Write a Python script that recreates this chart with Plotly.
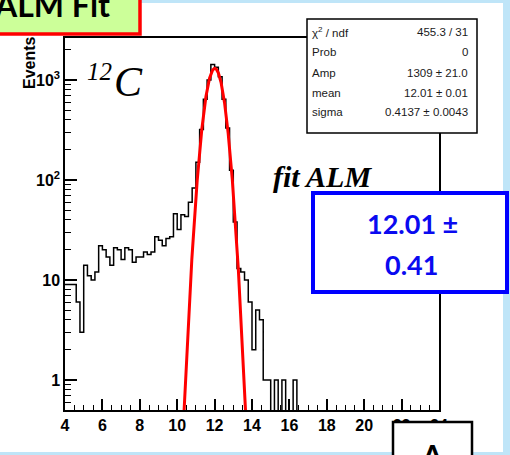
import numpy as np
import plotly.graph_objects as go

# ---- histogram: 100 bins of width 0.2 between 4 and 24 ----
bin_lo, bin_hi, n_bins = 4.0, 24.0, 100
counts = [
    9, 9, 9, 6, 3,
    14, 11, 10, 12, 22,
    20, 17, 14, 21, 20,
    16, 21, 20, 15, 17,
    17, 19, 18, 19, 27,
    25, 22, 26, 27, 46,
    32, 45, 43, 60, 83,
    150, 320, 640, 1000, 1430,
    1340, 1080, 640, 330, 125,
    38, 13, 12, 10, 6,
    2, 5, 4, 1, 1,
    0, 1, 0, 1, 0,
    0, 1, 0, 0, 0,
    0, 0, 0, 0, 0,
    0, 0, 0, 0, 0,
    0, 0, 0, 0, 0,
    0, 0, 0, 0, 0,
    0, 0, 0, 0, 0,
    0, 0, 0, 0, 0,
    0, 0, 0, 0, 0,
]

# ---- gaussian fit result ----
fit_amp, fit_mean, fit_sigma = 1309.0, 12.01, 0.4137
fit_lo, fit_hi = 10.0, 14.0

stats_labels = ["χ<sup>2</sup> / ndf", "Prob", "Amp", "mean", "sigma"]
stats_values = ["455.3 / 31", "0", "1309 ± 21.0", "12.01 ± 0.01", "0.4137 ± 0.0043"]

x_ticks = list(range(4, 25, 2))
y_ticks = [1, 10, 100, 1000]
y_tick_text = ["1", "10", "10<sup>2</sup>", "10<sup>3</sup>"]
y_minor = [0.6, 0.7, 0.8, 0.9] + [m * d for d in (1, 10, 100) for m in range(2, 10)] + [2000]
x_minor = [v for v in np.arange(4.5, 24.0, 0.5) if v % 2 != 0]

result_line1, result_line2 = "12.01 ±", "0.41"

# ---- page geometry (pixels) ----
W, H = 510, 455
ML, MR, MT, MB = 65, 71, 38, 45
PW, PH = W - ML - MR, H - MT - MB


def px(x):
    return (x - ML) / PW


def py(y):
    return (H - MB - y) / PH


edges = np.linspace(bin_lo, bin_hi, n_bins + 1)
cnt = np.array(counts, dtype=float)
draw_cnt = np.where(cnt > 0, cnt, 0.05)  # empty bins fall to the frame bottom
hx = list(edges)
hy = list(draw_cnt) + [draw_cnt[-1]]

fx = np.linspace(fit_lo, fit_hi, 600)
fy = fit_amp * np.exp(-0.5 * ((fx - fit_mean) / fit_sigma) ** 2)

fig = go.Figure()
fig.add_trace(go.Scatter(x=hx, y=hy, mode="lines", line=dict(color="black", width=1.5, shape="hv"),
                         hoverinfo="skip"))
fig.add_trace(go.Scatter(x=fx, y=fy, mode="lines", line=dict(color="#ff0000", width=3),
                         hoverinfo="skip"))

tick_font = dict(family="Liberation Sans", size=16, color="black", weight="bold")

fig.update_layout(
    width=W, height=H,
    margin=dict(l=ML, r=MR, t=MT, b=MB, pad=0),
    paper_bgcolor="white", plot_bgcolor="white",
    showlegend=False, hovermode=False,
    xaxis=dict(range=[bin_lo, bin_hi], tickmode="array", tickvals=x_ticks,
               ticks="inside", ticklen=11, tickwidth=1.5, tickcolor="black",
               minor=dict(tickmode="array", tickvals=x_minor, ticks="inside", ticklen=5,
                          tickwidth=1.2, tickcolor="black", showgrid=False),
               showgrid=False, zeroline=False, showline=True, mirror=True,
               linecolor="black", linewidth=1.5, tickfont=tick_font),
    yaxis=dict(type="log", range=[np.log10(0.5), 3.42], tickmode="array",
               tickvals=y_ticks, ticktext=y_tick_text,
               ticks="inside", ticklen=12, tickwidth=1.5, tickcolor="black",
               minor=dict(tickmode="array", tickvals=y_minor, ticks="inside", ticklen=6,
                          tickwidth=1.2, tickcolor="black", showgrid=False),
               showgrid=False, zeroline=False, showline=True, mirror=True,
               linecolor="black", linewidth=1.5, tickfont=tick_font),
)

shapes = []
page_blue = "#bfe5f8"
# slide background strips
shapes.append(dict(type="rect", xref="paper", yref="paper", x0=px(503), x1=px(W + 5),
                   y0=py(H + 5), y1=py(-5), fillcolor=page_blue, line_width=0, layer="above"))
shapes.append(dict(type="rect", xref="paper", yref="paper", x0=px(-5), x1=px(W + 5),
                   y0=py(H + 5), y1=py(452), fillcolor=page_blue, line_width=0, layer="above"))
shapes.append(dict(type="rect", xref="paper", yref="paper", x0=px(-5), x1=px(W + 5),
                   y0=py(3), y1=py(-5), fillcolor=page_blue, line_width=0, layer="above"))
# title tab
shapes.append(dict(type="rect", xref="paper", yref="paper", x0=px(-6), x1=px(140),
                   y0=py(34), y1=py(-6), fillcolor="#ccff99",
                   line=dict(color="#ff0000", width=3.5), layer="above"))
# stats box
shapes.append(dict(type="rect", xref="paper", yref="paper", x0=px(307), x1=px(477),
                   y0=py(133), y1=py(19), fillcolor="white",
                   line=dict(color="black", width=1.5), layer="above"))
# result box
shapes.append(dict(type="rect", xref="paper", yref="paper", x0=px(313), x1=px(507),
                   y0=py(292), y1=py(193), fillcolor="white",
                   line=dict(color="#0000ff", width=4), layer="above"))
# lower box
shapes.append(dict(type="rect", xref="paper", yref="paper", x0=px(393), x1=px(472),
                   y0=py(470), y1=py(422), fillcolor="white",
                   line=dict(color="black", width=2.5), layer="above"))
fig.update_layout(shapes=shapes)

ann = []


def text(x, y, s, size, family="Liberation Sans", color="black", xanchor="center",
         yanchor="middle", angle=0, **kw):
    ann.append(dict(xref="paper", yref="paper", x=px(x), y=py(y), text=s, showarrow=False,
                    xanchor=xanchor, yanchor=yanchor, textangle=angle,
                    font=dict(family=family, size=size, color=color, **kw)))


text(-8, 4, "<b>ALM Fit</b>", 32, family="Lato", xanchor="left")
text(29, 63, "<b>Events</b>", 16, angle=-90)
text(99, 71, "<i>12</i>", 25, family="Liberation Serif")
text(128, 82, "<i>C</i>", 42, family="Liberation Serif")
text(322, 176, "<b><i>fit ALM</i></b>", 30, family="Liberation Serif")

row_y = [32, 52.5, 73, 92.5, 111.5]
for yy, lab, val in zip(row_y, stats_labels, stats_values):
    text(310, yy, lab, 11.5, color="#1a1a1a", xanchor="left")
    text(470, yy, val, 11.5, color="#1a1a1a", xanchor="right")

text(412, 223, "<b>" + result_line1 + "</b>", 27, family="Lato", color="#0a0af0")
text(411, 264, "<b>" + result_line2 + "</b>", 27, family="Lato", color="#0a0af0")
text(432, 455, "<b>A</b>", 30, family="Lato")

fig.update_layout(annotations=ann)

fig.write_html("out.html", config=dict(displayModeBar=False))
